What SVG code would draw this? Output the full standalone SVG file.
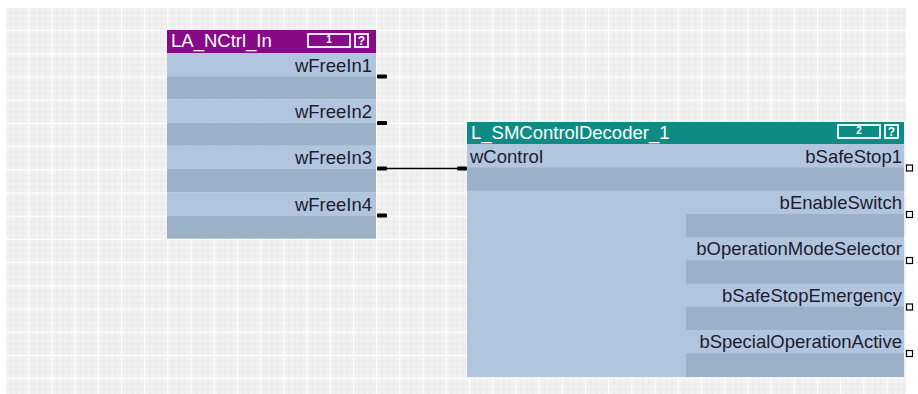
<svg xmlns="http://www.w3.org/2000/svg" width="918" height="394" viewBox="0 0 918 394">
<defs>
<pattern id="grid" x="5" y="7" width="23.2" height="23.2" patternUnits="userSpaceOnUse">
<rect width="23.2" height="23.2" fill="#f2f2f2"/>
<path d="M5.8 0V23.2M11.6 0V23.2M17.4 0V23.2M0 5.8H23.2M0 11.6H23.2M0 17.4H23.2" stroke="#e9e9e9" stroke-width="1" fill="none"/>
<path d="M0.5 0V23.2M0 0.5H23.2" stroke="#ffffff" stroke-width="1" fill="none"/>
</pattern>
</defs>
<style>
.lbl{font-family:"Liberation Sans",Arial,sans-serif;font-size:18.5px;fill:#1c1c2c}
.r{text-anchor:end}
.ttl{font-family:"Liberation Sans",Arial,sans-serif;font-size:18.5px;fill:#ffffff}
.num{font-family:"Liberation Sans",Arial,sans-serif;font-size:10px;fill:#ffffff;text-anchor:middle;font-weight:bold}
.q{font-family:"Liberation Sans",Arial,sans-serif;font-size:12px;fill:#ffffff;text-anchor:middle;font-weight:bold}
.lt{fill:#b1c5de}
.dk{fill:#9cb0c8}
.badge{fill:none;stroke:#ffffff;stroke-width:1.8}
.pin{fill:#000000}
.opin{fill:#ffffff;stroke:#000000;stroke-width:1.2}
</style>
<rect x="0" y="0" width="918" height="394" fill="#ffffff"/>
<rect x="5" y="7" width="901" height="387" fill="url(#grid)"/>

<g id="LA_NCtrl_In">
<rect x="167" y="30" width="209" height="23" fill="#870b87"/>
<rect class="lt" x="167" y="53" width="209" height="23.2"/>
<rect class="dk" x="167" y="76.2" width="209" height="23.2"/>
<rect class="lt" x="167" y="99.4" width="209" height="23.2"/>
<rect class="dk" x="167" y="122.6" width="209" height="23.2"/>
<rect class="lt" x="167" y="145.8" width="209" height="23.2"/>
<rect class="dk" x="167" y="169" width="209" height="23.2"/>
<rect class="lt" x="167" y="192.2" width="209" height="23.2"/>
<rect class="dk" x="167" y="215.4" width="209" height="23.2"/>
<text class="ttl" x="171" y="47">LA_NCtrl_In</text>
<rect class="badge" x="308" y="34" width="42" height="13"/>
<text class="num" x="329" y="43">1</text>
<rect class="badge" x="355" y="34" width="13" height="13"/>
<text class="q" x="361.5" y="45">?</text>
<text class="lbl r" x="372" y="72">wFreeIn1</text>
<text class="lbl r" x="372" y="118">wFreeIn2</text>
<text class="lbl r" x="372" y="164">wFreeIn3</text>
<text class="lbl r" x="372" y="211">wFreeIn4</text>
<rect class="pin" x="377" y="74.5" width="10" height="4" rx="1"/>
<rect class="pin" x="377" y="121" width="10" height="4" rx="1"/>
<rect class="pin" x="377" y="166.5" width="10" height="4" rx="1"/>
<rect class="pin" x="377" y="213.5" width="10" height="4" rx="1"/>
</g>

<g id="L_SMControlDecoder_1">
<rect x="467" y="122" width="437" height="22" fill="#0e8c84"/>
<rect class="lt" x="467" y="144" width="437" height="233"/>
<rect class="dk" x="467" y="167.5" width="437" height="23.2"/>
<rect class="dk" x="686" y="214" width="218" height="23.2"/>
<rect class="dk" x="686" y="260.4" width="218" height="23.2"/>
<rect class="dk" x="686" y="306.8" width="218" height="23.2"/>
<rect class="dk" x="686" y="353.2" width="218" height="23.8"/>
<text class="ttl" x="471" y="139">L_SMControlDecoder_1</text>
<rect class="badge" x="838" y="125" width="42" height="13"/>
<text class="num" x="859" y="134">2</text>
<rect class="badge" x="885" y="125" width="13" height="13"/>
<text class="q" x="891.5" y="136">?</text>
<text class="lbl" x="470" y="163">wControl</text>
<text class="lbl r" x="902" y="163">bSafeStop1</text>
<text class="lbl r" x="902" y="209">bEnableSwitch</text>
<text class="lbl r" x="902" y="255">bOperationModeSelector</text>
<text class="lbl r" x="902" y="302">bSafeStopEmergency</text>
<text class="lbl r" x="902" y="348">bSpecialOperationActive</text>
<rect class="pin" x="457" y="166.5" width="10" height="4" rx="1"/>
<rect class="opin" x="906.5" y="165" width="6" height="6"/>
<rect class="opin" x="906.5" y="211.5" width="6" height="6"/>
<rect class="opin" x="906.5" y="257.5" width="6" height="6"/>
<rect class="opin" x="906.5" y="304" width="6" height="6"/>
<rect class="opin" x="906.5" y="350.5" width="6" height="6"/>
</g>

<g id="connectors">
<line x1="386" y1="168.5" x2="458" y2="168.5" stroke="#000000" stroke-width="1.5"/>
</g>
</svg>
